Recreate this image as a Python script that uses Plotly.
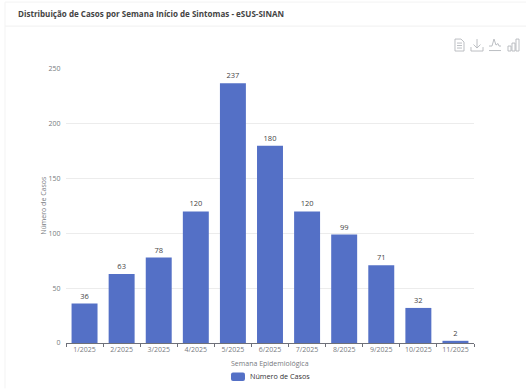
import plotly.graph_objects as go

semanas = ["1/2025", "2/2025", "3/2025", "4/2025", "5/2025", "6/2025",
           "7/2025", "8/2025", "9/2025", "10/2025", "11/2025"]
casos = [36, 63, 78, 120, 237, 180, 120, 99, 71, 32, 2]
y_ticks = [0, 50, 100, 150, 200, 250]
serie = "Número de Casos"
titulo_x = "Semana Epidemiológica"

W, H = 526, 389
L, R, T, B = 66, 52, 69, 45.5
FONT = "Open Sans"
GREY = "#777a80"
ICON = "#b4b8bc"
BAR = "#5470c6"


def px(x):
    return (x - L) / (W - L - R)


def py(y):
    return 1 - (y - T) / (H - T - B)


def icon_path(points):
    # polyline given in page pixels, converted to paper coordinates
    return "M " + " L ".join(f"{px(x):.4f},{py(y):.4f}" for x, y in points)


fig = go.Figure(go.Bar(
    x=semanas, y=casos, name=serie,
    marker=dict(color=BAR, line_width=0),
    width=0.7,
    text=casos, textposition="outside", cliponaxis=False,
    textfont=dict(family=FONT, size=7.5, color="#444"),
    showlegend=False,
))

toolbar = [
    # data view
    [(455, 39), (461, 39), (464, 42), (464, 51), (455, 51), (455, 39)],
    [(457, 43), (462, 43)], [(457, 45.5), (462, 45.5)], [(457, 48), (462, 48)],
    # save image
    [(477, 39), (477, 48)], [(473.5, 44.5), (477, 48), (480.5, 44.5)],
    [(471, 47), (471, 51), (483, 51), (483, 47)],
    # line view
    [(489, 46), (492, 46), (494, 39), (496, 45), (498, 43.5), (499, 46), (501, 46)],
    [(489, 50.5), (501, 50.5)],
    # bar view
    [(508, 46), (511, 46), (511, 51), (508, 51), (508, 46)],
    [(512, 43), (515, 43), (515, 51), (512, 51), (512, 43)],
    [(516, 39), (519, 39), (519, 51), (516, 51), (516, 39)],
]
shapes = [
    dict(type="path", path=icon_path(p), xref="paper", yref="paper",
         line=dict(color=ICON, width=0.9), layer="above")
    for p in toolbar
]
# card outline and header rule
shapes += [
    dict(type="line", xref="paper", yref="paper", x0=px(5), x1=px(526),
         y0=py(26), y1=py(26), line=dict(color="#f0f0f0", width=1)),
    dict(type="line", xref="paper", yref="paper", x0=px(5), x1=px(5),
         y0=py(2), y1=py(389), line=dict(color="#f3f3f3", width=1)),
    dict(type="line", xref="paper", yref="paper", x0=px(5), x1=px(526),
         y0=py(2), y1=py(2), line=dict(color="#f3f3f3", width=1)),
]
# legend swatch with rounded corners
shapes.append(dict(
    type="path", xref="paper", yref="paper", fillcolor=BAR, line_width=0,
    path=(f"M {px(233):.4f},{py(373):.4f} L {px(243):.4f},{py(373):.4f} "
          f"Q {px(245):.4f},{py(373):.4f} {px(245):.4f},{py(375):.4f} "
          f"L {px(245):.4f},{py(379.5):.4f} "
          f"Q {px(245):.4f},{py(381.5):.4f} {px(243):.4f},{py(381.5):.4f} "
          f"L {px(233):.4f},{py(381.5):.4f} "
          f"Q {px(231):.4f},{py(381.5):.4f} {px(231):.4f},{py(379.5):.4f} "
          f"L {px(231):.4f},{py(375):.4f} "
          f"Q {px(231):.4f},{py(373):.4f} {px(233):.4f},{py(373):.4f} Z"),
))

fig.update_layout(
    width=W, height=H,
    margin=dict(l=L, r=R, t=T, b=B, pad=0),
    paper_bgcolor="white", plot_bgcolor="white",
    font=dict(family=FONT, size=7, color=GREY),
    bargap=0.3,
    shapes=shapes,
    annotations=[
        dict(text="<b>Distribuição de Casos por Semana Início de Sintomas - eSUS-SINAN</b>",
             xref="paper", yref="paper", x=px(16), y=py(13.5),
             xanchor="left", yanchor="middle", showarrow=False,
             font=dict(family=FONT, size=8.05, color="#444")),
        dict(text=serie, xref="paper", yref="paper", x=px(248), y=py(377),
             xanchor="left", yanchor="middle", showarrow=False,
             font=dict(family=FONT, size=7.2, color="#333")),
        dict(text=titulo_x, xref="paper", yref="paper", x=px(270), y=py(364.5),
             xanchor="center", yanchor="middle", showarrow=False,
             font=dict(family=FONT, size=7, color=GREY)),
        dict(text=serie, xref="paper", yref="paper", x=px(44), y=py(206),
             xanchor="center", yanchor="middle", showarrow=False, textangle=-90,
             font=dict(family=FONT, size=7, color=GREY)),
    ],
)
fig.update_xaxes(
    automargin=False,
    type="category", showgrid=False, showline=True, linecolor="#6e7079", linewidth=1,
    ticks="outside", ticklen=3, tickcolor="#6e7079", tickfont=dict(size=7, color=GREY),
    tickson="boundaries", range=[-0.5, 10.5], tickangle=0,
)
fig.update_yaxes(
    automargin=False,
    range=[0, 250], tickvals=y_ticks, showline=False, zeroline=False,
    gridcolor="#ececec", gridwidth=1, ticks="outside", ticklen=3,
    tickcolor="rgba(0,0,0,0)", tickfont=dict(size=7, color=GREY),
)

fig.write_html("out.html")
